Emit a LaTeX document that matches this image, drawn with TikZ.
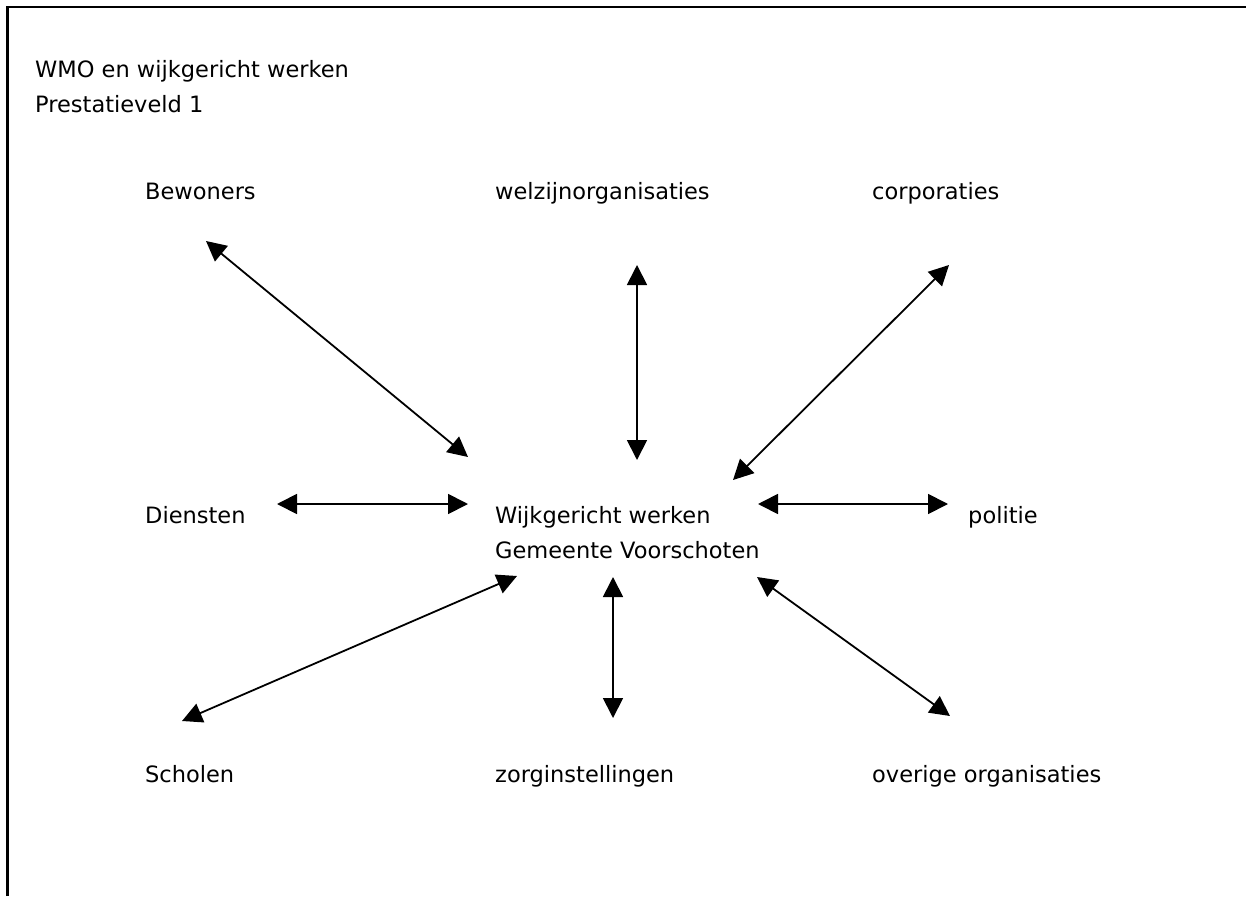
\documentclass[tikz,border=0pt]{standalone}
\usepackage{fontspec}
\setmainfont{DejaVu Sans}
\usetikzlibrary{arrows.meta}
\begin{document}
\begin{tikzpicture}[x=1pt,y=-1pt,
  lbl/.style={anchor=base west,inner sep=0pt,font=\fontsize{22.5}{35}\selectfont},
  link/.style={line width=1.8pt,{Triangle[length=20pt,width=20pt]}-{Triangle[length=20pt,width=20pt]}},
  frameline/.style={line width=2.2pt}]
\useasboundingbox (0,0) rectangle (1246,896);
\coordinate (fa) at (7.5,896);
\coordinate (fb) at (7.5,7);
\coordinate (fc) at (1246,7);
\draw[frameline] (fa) -- (fb) -- (fc);
\node[lbl] (t1) at (35,78) {WMO en wijkgericht werken};
\node[lbl] (t2) at (35,113) {Prestatieveld 1};
\node[lbl] (bew) at (145,200) {Bewoners};
\node[lbl] (wel) at (495,200) {welzijnorganisaties};
\node[lbl] (cor) at (872,200) {corporaties};
\node[lbl] (die) at (145,523) {Diensten};
\node[lbl] (wijk) at (495,523) {Wijkgericht werken};
\node[lbl] (gem) at (495,558) {Gemeente Voorschoten};
\node[lbl] (pol) at (968,523) {politie};
\node[lbl] (sch) at (145,782) {Scholen};
\node[lbl] (zor) at (495,782) {zorginstellingen};
\node[lbl] (ove) at (872,782) {overige organisaties};
\coordinate (a1s) at (206,241); \coordinate (a1e) at (468,457);
\coordinate (a2s) at (637,265); \coordinate (a2e) at (637,460);
\coordinate (a3s) at (949,265); \coordinate (a3e) at (733,480);
\coordinate (a4s) at (277,504); \coordinate (a4e) at (468,504);
\coordinate (a5s) at (758,504); \coordinate (a5e) at (948,504);
\coordinate (a6s) at (182,721); \coordinate (a6e) at (517,576);
\coordinate (a7s) at (613,577); \coordinate (a7e) at (613,718);
\coordinate (a8s) at (757,577); \coordinate (a8e) at (950,716);
\draw[link] (a1s) -- (a1e);
\draw[link] (a2s) -- (a2e);
\draw[link] (a3s) -- (a3e);
\draw[link] (a4s) -- (a4e);
\draw[link] (a5s) -- (a5e);
\draw[link] (a6s) -- (a6e);
\draw[link] (a7s) -- (a7e);
\draw[link] (a8s) -- (a8e);
\end{tikzpicture}
\end{document}
